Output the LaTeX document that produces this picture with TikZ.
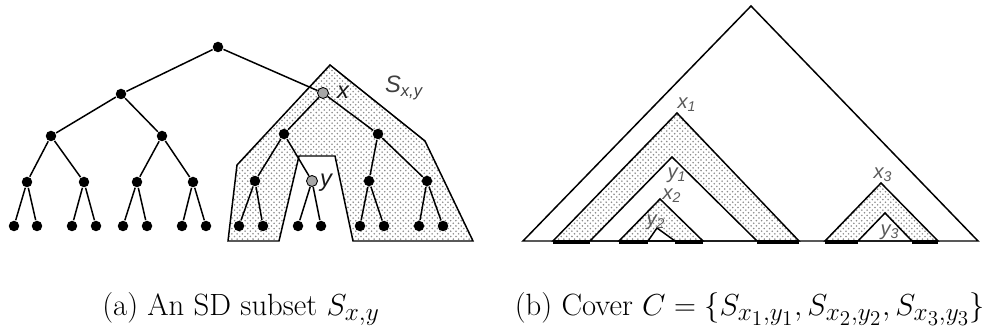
\documentclass[tikz,border=0pt]{standalone}
\usepackage{fontspec}
\newfontfamily\lblfont{Liberation Sans}
\usetikzlibrary{patterns}
\DeclareMathSizes{17.5}{17.5}{15.5}{12}
\tikzset{
  treedot/.style={circle,fill=black,inner sep=0pt,minimum size=0.21cm},
  keynode/.style={circle,draw=black,fill=black!35,line width=0.5pt,inner sep=0pt,minimum size=0.22cm},
  stipple/.style={pattern=crosshatch dots,pattern color=black!45},
  lbl/.style={font=\lblfont\itshape\fontsize{13.5}{15}\selectfont,text=black!90,inner sep=0pt},
  sublbl/.style={font=\lblfont\itshape\fontsize{11.5}{13}\selectfont,text=black!65,inner sep=0pt},
  leafbar/.style={line width=2.5pt},
  capt/.style={font=\fontsize{17.5}{20}\selectfont,anchor=base,inner sep=0pt},
}
\begin{document}
\begin{tikzpicture}[x=0.02cm,y=-0.02cm,line width=0.85pt]
  \useasboundingbox (0,0) rectangle (991,334);
  % (a) SD subset
  \draw[stipple] (330,65) -- (425,141) -- (473,241) -- (353,241) -- (335,156)
    -- (299,156) -- (279,241) -- (228,241) -- (237,165) -- cycle;
  \node[treedot] (r) at (218,47) {};
  \node[treedot] (a) at (121,94) {};
  \node[keynode] (x) at (323,93) {};
  \foreach \n/\xx/\yy in {aa/51/136,ab/162/136,xa/284/134,xb/378/134,
      aaa/27/182,aab/84/182,aba/137/182,abb/193/182,
      xaa/255/181,xba/369/181,xbb/427/181}
    \node[treedot] (\n) at (\xx,\yy) {};
  \node[keynode] (y) at (312,181) {};
  \foreach \n/\xx in {l1/14,l2/37,l3/72,l4/96,l5/123,l6/147,l7/182,l8/206,
      l9/239,l10/263,l11/298,l12/321,l13/360,l14/384,l15/419,l16/443}
    \node[treedot] (\n) at (\xx,226) {};
  \foreach \p/\c in {r/a,r/x,a/aa,a/ab,x/xa,x/xb,aa/aaa,aa/aab,ab/aba,ab/abb,
      xa/xaa,xa/y,xb/xba,xb/xbb,aaa/l1,aaa/l2,aab/l3,aab/l4,aba/l5,aba/l6,
      abb/l7,abb/l8,xaa/l9,xaa/l10,y/l11,y/l12,xba/l13,xba/l14,xbb/l15,xbb/l16}
    \draw (\p) -- (\c);
  \node[lbl] (xl) at (343,92) {x};
  \node[lbl] (yl) at (326,183) {y};
  \node[lbl,text=black!75] (sl) at (404,88) {S\textsubscript{x,y}};

  % (b) cover
  \coordinate (top) at (751,6);
  \coordinate (x1) at (677,113);
  \coordinate (y1) at (672,157);
  \coordinate (x2) at (660,199);
  \coordinate (y2) at (657,228);
  \coordinate (x3) at (881,183);
  \coordinate (y3) at (885,213);
  \draw (top) -- (978,241) -- (523,241) -- cycle;
  \draw[stipple,even odd rule] (x1) -- (553,241) -- (799,241) -- cycle
    (y1) -- (590,241) -- (757,241) -- cycle;
  \draw[stipple,even odd rule] (x2) -- (619,241) -- (703,241) -- cycle
    (y2) -- (648,241) -- (675,241) -- cycle;
  \draw[stipple,even odd rule] (x3) -- (825,241) -- (938,241) -- cycle
    (y3) -- (858,241) -- (912,241) -- cycle;
  \foreach \s/\e in {553/590,757/799,619/648,675/703,825/858,912/938}
    \draw[leafbar] (\s,242) -- (\e,242);
  \node[sublbl] (x1l) at (687,105) {x\textsubscript{1}};
  \node[sublbl] (y1l) at (677,175) {y\textsubscript{1}};
  \node[sublbl] (x2l) at (672,196) {x\textsubscript{2}};
  \node[sublbl] (y2l) at (656,222) {y\textsubscript{2}};
  \node[sublbl] (x3l) at (883,175) {x\textsubscript{3}};
  \node[sublbl] (y3l) at (890,232) {y\textsubscript{3}};

  % captions
  \node[capt] (capa) at (241,316) {(a) An SD subset $S_{x,y}$};
  \node[capt] (capb) at (750,316) {(b) Cover $C=\{S_{x_1,y_1},S_{x_2,y_2},S_{x_3,y_3}\}$};
\end{tikzpicture}
\end{document}
